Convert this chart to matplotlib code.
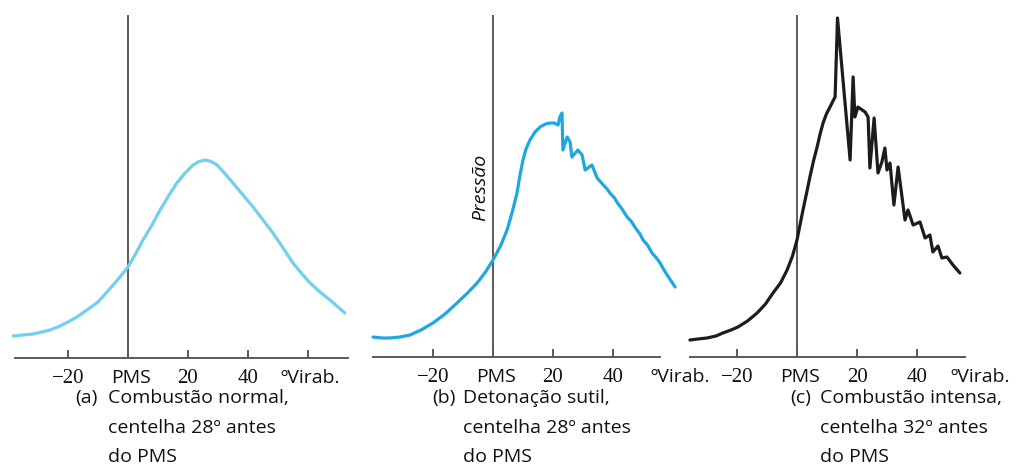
import matplotlib
matplotlib.use("Agg")
import matplotlib.pyplot as plt

# ---------------- data (crank angle in degrees, pressure in arbitrary units) ----------------
a_deg = [-38.3, -35, -31.7, -28, -26, -23, -20, -17, -13.7, -10, -7, -3.5, 0, 2.5, 5, 8, 10.7,
         13.5, 16.3, 19, 21.7, 23.7, 25.7, 27.7, 29.7, 32.3, 35, 38.3, 41.7, 45, 48.3, 51.7,
         55, 58, 60.7, 64, 67.3, 70, 72.3]
a_p = [22, 23, 24, 26.5, 28, 31.5, 36, 41, 48, 56, 66, 78, 91, 104, 118, 133, 148,
       162, 175, 185, 193, 196.5, 198, 196.5, 193, 184.5, 175, 163, 151, 138, 125, 110,
       95, 84, 75, 66, 58, 51, 45]

b_deg = [-40, -37, -34.3, -31, -27.7, -24, -20, -16, -12, -8.5, -5.3, -2.5, 0, 2.5, 4.7, 6.5,
         8, 9, 10, 11, 12.3, 14, 15.7, 17.5, 19, 20.5, 21.7, 22.3, 23,
         23.3, 24.7, 25.7, 26.3, 28.3, 29.7, 30.7, 33, 34.7, 36.5, 38, 39, 40.5, 41.5, 43, 44.7,
         46, 47.5, 49, 50, 51.5, 53, 54.5, 55.7, 57, 58.5, 60.7]
b_p = [20, 19, 19, 20, 22, 27, 34, 43, 54, 64, 74, 85, 97, 111, 127, 146,
       164, 182, 197, 208, 217, 225, 230, 233, 234, 234, 232, 240, 244,
       207, 220, 215, 200, 207, 202, 187, 192, 179, 173, 168, 164, 159, 154, 148, 140,
       136, 129, 123, 117, 112, 104, 99, 94, 87, 80, 70]

c_deg = [-35.7, -33, -30, -27, -24.7, -22, -19.7, -16.5, -13.3, -10.5, -8, -5.5, -3.3, -1.5,
         0, 1, 2, 3.2, 4.3, 5.5, 6.7, 7.7, 8.7, 9.8, 11, 12, 12.7, 13.5,
         17.7, 18.7, 19.3, 20.3, 22.7, 23.7, 24.3, 25.7, 27, 28.3, 29.3, 30, 31, 32.3,
         33.7, 36, 37, 38.7, 41, 42.7, 44.3, 45.3, 47, 48.3, 50, 52, 54.3]
c_p = [17, 18, 19, 21, 24, 27, 30, 36, 44, 53, 64, 74, 87, 101,
       117, 132, 147, 164, 180, 196, 210, 223, 234, 243, 250, 256, 260, 339,
       197, 280, 240, 250, 245, 240, 189, 239, 184, 195, 209, 187, 194, 152,
       190, 137, 147, 132, 135, 119, 122, 105, 111, 99, 100, 92, 84]

tick_vals = [-20, 0, 20, 40]
tick_labels = ["\u221220", "PMS", "20", "40"]
x_unit_label = "\u00baVirab."
captions = [
    ("(a)", ["Combustão normal,", "centelha 28º antes", "do PMS"]),
    ("(b)", ["Detonação sutil,", "centelha 28º antes", "do PMS"]),
    ("(c)", ["Combustão intensa,", "centelha 32º antes", "do PMS"]),
]
y_label = "Pressão"

# ---------------- layout (pixel based) ----------------
W, H = 1016, 473
fig = plt.figure(figsize=(W / 100, H / 100), dpi=100)
fig.patch.set_facecolor("white")

AX_COL = "#5a5a5a"
TXT = "#111111"
SANS = ["Open Sans", "DejaVu Sans"]
SERIF = ["Liberation Serif", "DejaVu Serif"]
FS = 14

panels = [
    dict(x0=128, base=358, L=0, R=360, a0=-37.7, a1=73.3, col="#72cfee",
         deg=a_deg, p=a_p, extra_tick=60, unit_x=60.7, cap_x=(75, 108)),
    dict(x0=493, base=357, L=362, R=690, a0=-40, a1=55.7, col="#1fa8e0",
         deg=b_deg, p=b_p, extra_tick=None, unit_x=62.3, cap_x=(432, 463)),
    dict(x0=797, base=357, L=680, R=1016, a0=-35.7, a1=56, col="#1c1c1c",
         deg=c_deg, p=c_p, extra_tick=None, unit_x=61, cap_x=(790, 820)),
]

TOP, BOT = 5, 368
for i, pn in enumerate(panels):
    ax = fig.add_axes([pn["L"] / W, (H - BOT) / H, (pn["R"] - pn["L"]) / W, (BOT - TOP) / H])
    ax.set_xlim((pn["L"] - pn["x0"]) / 3.0, (pn["R"] - pn["x0"]) / 3.0)
    ax.set_ylim(pn["base"] - BOT, pn["base"] - TOP)
    ax.patch.set_visible(False)
    for s in ["top", "right", "left"]:
        ax.spines[s].set_visible(False)
    sp = ax.spines["bottom"]
    sp.set_position(("data", 0))
    sp.set_bounds(pn["a0"], pn["a1"])
    sp.set_color(AX_COL)
    sp.set_linewidth(1.4)
    ax.set_yticks([])
    ticks = list(tick_vals) + ([pn["extra_tick"]] if pn["extra_tick"] is not None else [])
    ax.set_xticks(ticks)
    ax.set_xticklabels([])
    ax.tick_params(axis="x", direction="in", length=6, width=1.4, color=AX_COL)

    # vertical line at TDC
    ax.vlines(0, 0, pn["base"] - 15, color=AX_COL, lw=1.4)

    # curve
    ax.plot(pn["deg"], pn["p"], color=pn["col"], lw=2.3, solid_joinstyle="round",
            solid_capstyle="round", zorder=3)

    # tick labels
    for v, lab in zip(tick_vals, tick_labels):
        fam = SANS if lab == "PMS" else SERIF
        size = FS if lab == "PMS" else 15
        xx = v + (1 if lab == "PMS" else 0)
        ax.text(xx, -20, lab, ha="center", va="center", family=fam, fontsize=size, color=TXT)
    ax.text(pn["unit_x"], -20, x_unit_label, ha="center", va="center", family=SANS,
            fontsize=FS, color=TXT)

    # captions
    tag, lines = captions[i]
    fig.text(pn["cap_x"][0] / W, 1 - 398 / H, tag, ha="left", va="center", family=SANS,
             fontsize=FS, color=TXT)
    for k, line in enumerate(lines):
        fig.text(pn["cap_x"][1] / W, 1 - (398 + 29.5 * k) / H, line, ha="left", va="center",
                 family=SANS, fontsize=FS, color=TXT)

fig.text(480 / W, 1 - 187 / H, y_label, rotation=90, ha="center", va="center",
         family=SANS, style="italic", fontsize=FS, color=TXT)

fig.savefig("out.png", dpi=100, facecolor="white")
